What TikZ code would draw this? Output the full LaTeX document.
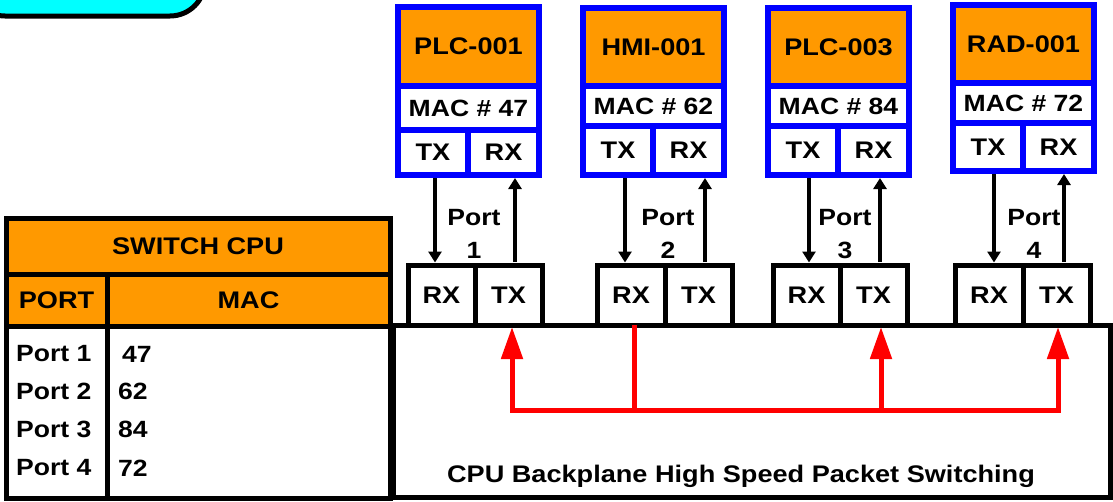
\documentclass[tikz,border=0pt]{standalone}
\usepackage{fontspec}
\setmainfont[FakeStretch=1.13]{Liberation Sans}
\usetikzlibrary{arrows.meta}
\definecolor{devorange}{RGB}{255,153,0}
\definecolor{titlecyan}{RGB}{0,255,255}

\begin{document}
\begin{tikzpicture}[x=1pt,y=-1pt]
	\tikzset{
		cell/.style={draw, line width=5pt, inner sep=0pt, outer sep=0pt, font=\fontsize{24}{30}\selectfont\bfseries},
		head/.style={cell, fill=devorange},
		devcell/.style={cell, draw=blue, line width=6pt, fill=white, font=\fontsize{24}{30}\selectfont\bfseries},
		devname/.style={devcell, fill=devorange},
		entry/.style={anchor=west, inner sep=0pt, font=\fontsize{23.5}{30}\selectfont\bfseries},
		wire/.style={line width=4pt, -{Triangle[width=13pt,length=11pt]}, shorten <=3pt},
		redline/.style={line width=5pt, red},
		redarrow/.style={redline, -{Triangle[width=21pt,length=32pt]}, shorten >=2pt},
	}
	\useasboundingbox (0,0) rectangle (1113,501);

	\begin{scope}
		\clip (0,0) rectangle (1113,501);
		\draw[line width=5pt, fill=titlecyan, rounded corners=35pt] (-30,-60) rectangle (205,16);
	\end{scope}

	% switch cpu table
	\node[head, minimum width=384, minimum height=56] (cpu) at (198,246) {SWITCH CPU};
	\node[head, minimum width=101, minimum height=52] (porthd) at (56.5,300) {PORT};
	\node[head, minimum width=283, minimum height=52] (machd) at (248.5,300) {MAC};
	\node[cell, fill=white, minimum width=101, minimum height=172] (portcol) at (56.5,412) {};
	\node[cell, fill=white, minimum width=283, minimum height=172] (maccol) at (248.5,412) {};
	\foreach \i/\y/\m/\mx in {1/354/47/122, 2/391/62/118, 3/429/84/118, 4/468/72/118}{
		\node[entry] (port\i) at (16,\y) {Port \i};
		\node[entry] (val\i) at (\mx,\y) {\m};
	}

	% backplane
	\node[cell, fill=white, minimum width=717, minimum height=172, anchor=north west] (bp) at (393,325) {};
	\node[entry, anchor=base, font=\fontsize{24}{30}\selectfont\bfseries] (bptext) at (741,482) {CPU Backplane High Speed Packet Switching};

	\foreach \i/\lx/\mx/\rx in {1/408/475/542, 2/597/665/732, 3/773/840/907, 4/955/1023/1090}{
		\node[cell, fill=white, minimum width={\mx-\lx}, minimum height=60] (prx\i) at ({(\lx+\mx)/2},295) {RX};
		\node[cell, fill=white, minimum width={\rx-\mx}, minimum height=60] (ptx\i) at ({(\mx+\rx)/2},295) {TX};
	}

	% devices
	\foreach \i/\lx/\ya/\yb/\yc/\yd/\vx/\dev/\mac in {1/398/7/86/130/175/468/PLC-001/47, 2/583/8/86/126/175/653/HMI-001/62, 3/768/8/86/126/175/838/PLC-003/84, 4/953/5/83/123/171/1023/RAD-001/72}{
		\node[devname, minimum width=141, minimum height={\yb-\ya}] (dev\i) at ({\lx+70.5},{(\ya+\yb)/2}) {\dev};
		\node[devcell, minimum width=141, minimum height={\yc-\yb}, font=\fontsize{23.5}{30}\selectfont\bfseries] (mac\i) at ({\lx+70.5},{(\yb+\yc)/2}) {MAC \# \mac};
		\node[devcell, minimum width={\vx-\lx}, minimum height={\yd-\yc}] (tx\i) at ({(\lx+\vx)/2},{(\yc+\yd)/2}) {TX};
		\node[devcell, minimum width={\lx+141-\vx}, minimum height={\yd-\yc}] (rx\i) at ({(\vx+\lx+141)/2},{(\yc+\yd)/2}) {RX};
	}

	\foreach \i/\a/\b/\px in {1/435/515/474, 2/625/705/668, 3/809/880/845, 4/994/1064/1034}{
		\draw[wire, shorten >=2.5pt] (tx\i.south -| \a,0) -- (prx\i.north -| \a,0);
		\draw[wire, shorten >=3pt] (ptx\i.north -| \b,0) -- (rx\i.south -| \b,0);
		\node[align=center, inner sep=0pt, font=\fontsize{23.5}{33}\selectfont\bfseries] (lbl\i) at (\px,234) {Port\\\i};
	}

	% packet switching
	\coordinate (hub) at (634,410);
	\coordinate (lft) at (512,410);
	\coordinate (mid) at (881,410);
	\coordinate (rgt) at (1058,410);
	\draw[redline] (prx2.south -| hub) -- (hub);
	\draw[redline, line cap=rect] (lft) -- (rgt);
	\draw[redarrow] (lft) -- (ptx1.south -| lft);
	\draw[redarrow] (mid) -- (ptx3.south -| mid);
	\draw[redarrow] (rgt) -- (ptx4.south -| rgt);

\end{tikzpicture}
\end{document}
